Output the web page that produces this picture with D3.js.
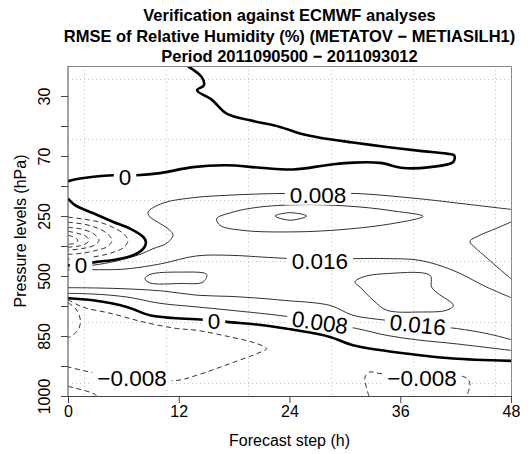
<!DOCTYPE html>
<html><head><meta charset="utf-8">
<script src="https://cdn.jsdelivr.net/npm/d3@7"></script>
<style>
body{margin:0;background:#fff}
svg{display:block}
text{font-family:"Liberation Sans",Arial,Helvetica,sans-serif;fill:#000}
</style>
</head><body>
<svg id="c" width="528" height="454"></svg>
<script>
// ---------- data ----------
const titleLines = [
  "Verification against ECMWF analyses",
  "RMSE of Relative Humidity (%) (METATOV \u2212 METIASILH1)",
  "Period 2011090500 \u2212 2011093012"
];
const xLabel = "Forecast step (h)";
const yLabel = "Pressure levels (hPa)";
const stepTicks = [0, 12, 24, 36, 48];
const levels = ["30","50","70","150","250","400","500","700","850","925","1000"];
const labeledLevels = ["30","70","250","500","850","1000"];
const gridSteps = [1.77, 10.62, 19.54, 28.5, 37.35, 46.3];
const gridLevels = [-0.58, 1.44, 3.48, 5.51, 7.54, 9.58];

// contour lines: [forecast step (h), pressure-level index]
const zeroTop = [[13.0,-0.99],[14.49,-0.63],[14.73,-0.36],[13.98,-0.19],[15.57,0.12],[17.19,0.59],[19.72,0.81],[22.97,1.03],[25.14,1.25],[27.3,1.39],[30.88,1.55],[34.53,1.70],[38.14,1.83],[41.03,1.92],[41.85,1.98],[41.74,2.2],[39.22,2.37],[36.33,2.4],[33.8,2.23],[30.91,2.22],[28.39,2.29],[24.38,2.45],[20.8,2.39],[17.19,2.31],[13.54,2.37],[9.97,2.57],[7.44,2.64],[4.88,2.64],[1.3,2.75],[0,2.84]];
const zeroBlob = [[0,3.42],[0.76,3.64],[2.74,3.91],[4.91,4.2],[6.72,4.42],[8.16,4.7],[8.45,4.87],[8.16,5.09],[7.07,5.31],[5.28,5.45],[3.11,5.53],[1.3,5.61],[0,5.64]];
const zeroLow = [[0,6.74],[2.71,6.81],[6.37,7.03],[8.88,7.31],[11.38,7.4],[14.3,7.45],[15.82,7.48],[17.2,7.53],[21.13,7.64],[24.78,7.81],[28.39,8.03],[30.88,8.31],[34.53,8.5],[38.14,8.64],[41.71,8.75],[48,8.83]];
const pos008Up = [[0,5.69],[2.71,5.64],[5.09,5.51],[6.72,5.38],[7.8,5.28],[9.21,5.09],[10.69,4.91],[11.38,4.64],[11.05,4.48],[9.97,4.25],[8.88,4.03],[8.67,3.87],[10.29,3.57],[13.54,3.39],[17.19,3.31],[22.97,3.25],[27.1,3.26],[31.31,3.25],[35.21,3.34],[38.86,3.45],[42.47,3.58],[48,3.78]];
const pos008Low = [[0,6.58],[2.71,6.6],[6.37,6.7],[9.97,6.91],[13.94,7.03],[17.55,7.14],[23.51,7.34],[27.3,7.54],[31.28,7.75],[34.53,7.98],[38.14,8.14],[41.71,8.25],[48,8.48]];
const pos016Up = [[0,5.79],[2.71,5.79],[5.63,5.78],[7.8,5.71],[10.29,5.58],[13.94,5.33],[17.55,5.31],[21.13,5.37],[23.51,5.41],[27.3,5.45],[31.31,5.42],[34.56,5.42],[38.14,5.48],[41.71,5.81],[45.36,6.37],[48,6.72]];
const pos016Low = [[0,6.39],[3.25,6.4],[6.5,6.43],[10.29,6.5],[13.94,6.64],[17.55,6.68],[21.13,6.75],[23.29,6.81],[28.39,6.98],[30.88,7.31],[34.56,7.48],[37.9,7.62],[42.1,7.75],[45.4,7.92],[48,8.12]];
const pos016Ring = [[16.11,4.09],[17.88,3.87],[20.8,3.7],[26.22,3.62],[31.64,3.7],[35.21,3.83],[38.46,4.01],[35.21,4.25],[29.79,4.45],[24.38,4.53],[18.96,4.48],[16.47,4.31]];
const pos016Edge = [[48,4.2],[46.5,4.4],[44.5,4.66],[43.55,4.85],[44.1,5.05],[45.4,5.4],[46.8,5.78],[48,6.09]];
const pos024Diamond = [[22.43,4.0],[24.05,3.89],[25.86,4.0],[24.05,4.14]];
const pos024IslandL = [[8.34,6.09],[8.88,5.95],[12.13,5.87],[15.03,5.95],[14.63,6.2],[12.13,6.25],[8.88,6.23]];
const pos024IslandR = [[31.09,6.2],[31.99,6.03],[34.53,5.92],[39.22,5.98],[39.4,6.37],[40.09,6.58],[41.75,6.98],[41.03,7.14],[38.14,7.2],[34.53,7.14],[33.08,6.81],[31.64,6.37]];
const neg008Low = [[0,6.79],[1.63,7.04],[4.55,7.24],[8.13,7.53],[11.78,7.75],[13.94,7.81],[17.55,8.03],[20.44,8.25],[21.53,8.42],[20.44,8.59],[17.55,8.92],[13.94,9.31],[11.78,9.48],[7.15,9.41],[2.38,9.2],[0,9.03]];
const neg016Low = [[0,6.89],[0.87,7.1],[1.3,7.4],[1.3,7.64],[0.98,7.84],[0.22,8.03],[0,8.04]];
const neg016Corner = [[0,9.68],[2.71,9.91],[3.11,10]];
const neg008Right = [[32.61,10],[32.18,9.37],[32.72,9.2],[33.59,9.24],[38.36,9.38],[43.01,9.37],[43.55,9.59],[43.19,10]];
const neg008Blob = [[0,4.04],[1.84,4.11],[3.47,4.21],[4.88,4.38],[5.96,4.58],[6.5,4.81],[6.07,5.04],[4.88,5.21],[3.25,5.34],[1.52,5.41],[0,5.44]];
const neg016Blob = [[0,4.21],[1.84,4.28],[3.25,4.41],[4.33,4.61],[4.77,4.81],[4.33,5.01],[3.14,5.14],[1.52,5.24],[0,5.28]];
const neg024Blob = [[0,4.38],[1.52,4.44],[2.71,4.58],[3.36,4.81],[2.82,4.98],[1.63,5.08],[0,5.14]];
const neg032Blob = [[0,4.51],[1.08,4.58],[1.95,4.68],[2.28,4.81],[1.84,4.94],[0.98,5.01],[0,5.04]];
const neg040Blob = [[0,4.64],[0.65,4.71],[1.08,4.81],[0.76,4.91],[0,4.94]];

const contourLines = [
  {value:0, closed:false, points:zeroTop},
  {value:0, closed:false, points:zeroBlob},
  {value:0, closed:false, points:zeroLow},
  {value:0.008, closed:false, points:pos008Up},
  {value:0.008, closed:false, points:pos008Low},
  {value:0.016, closed:false, points:pos016Up},
  {value:0.016, closed:false, points:pos016Low},
  {value:0.016, closed:true, points:pos016Ring},
  {value:0.016, closed:false, points:pos016Edge},
  {value:0.024, closed:true, points:pos024Diamond},
  {value:0.024, closed:true, points:pos024IslandL},
  {value:0.024, closed:true, points:pos024IslandR},
  {value:-0.008, closed:false, points:neg008Low},
  {value:-0.016, closed:false, points:neg016Low},
  {value:-0.016, closed:false, points:neg016Corner},
  {value:-0.008, closed:false, points:neg008Right},
  {value:-0.008, closed:false, points:neg008Blob},
  {value:-0.016, closed:false, points:neg016Blob},
  {value:-0.024, closed:false, points:neg024Blob},
  {value:-0.032, closed:false, points:neg032Blob},
  {value:-0.040, closed:false, points:neg040Blob}
];
const contourLabels = [
  {text:"0", step:6.18, level:2.68, angle:0},
  {text:"0.008", step:27.09, level:3.31, angle:0},
  {text:"0.016", step:27.3, level:5.48, angle:0},
  {text:"0", step:1.41, level:5.64, angle:0},
  {text:"0", step:15.82, level:7.48, angle:0},
  {text:"0.008", step:27.3, level:7.54, angle:8},
  {text:"0.016", step:37.9, level:7.62, angle:6},
  {text:"\u22120.008", step:6.93, level:9.41, angle:0},
  {text:"\u22120.008", step:38.36, level:9.38, angle:0}
];

// ---------- chart ----------
const svg = d3.select("#c");
const x = d3.scaleLinear().domain([0,48]).range([68,511]);
const y = d3.scaleLinear().domain([-1,10]).range([66,396]);

svg.append("defs").append("clipPath").attr("id","clip")
  .append("rect").attr("x",x(0)).attr("y",y(-1)).attr("width",x(48)-x(0)).attr("height",y(10)-y(-1));

// grid
const grid = svg.append("g").attr("stroke","#c4c4c4").attr("stroke-width",1).attr("stroke-dasharray","1,3");
grid.selectAll(".gx").data(gridSteps).join("line")
  .attr("x1",d=>Math.round(x(d))+0.5).attr("x2",d=>Math.round(x(d))+0.5)
  .attr("y1",y(-1)).attr("y2",y(10));
grid.selectAll(".gy").data(gridLevels).join("line")
  .attr("y1",d=>Math.round(y(d))+0.5).attr("y2",d=>Math.round(y(d))+0.5)
  .attr("x1",x(0)).attr("x2",x(48));

// contours
const lineOpen = d3.line().x(d=>x(d[0])).y(d=>y(d[1])).curve(d3.curveCatmullRom.alpha(0.5));
const lineClosed = d3.line().x(d=>x(d[0])).y(d=>y(d[1])).curve(d3.curveCatmullRomClosed.alpha(0.5));
const cg = svg.append("g").attr("clip-path","url(#clip)");
cg.selectAll("path").data(contourLines).join("path")
  .attr("d",d=> d.closed ? lineClosed(d.points) : lineOpen(d.points))
  .attr("fill","none")
  .attr("stroke", d=> d.value===0 ? "#000" : "#1a1a1a")
  .attr("stroke-width", d=> d.value===0 ? 2.6 : 0.9)
  .attr("stroke-dasharray", d=> d.value<0 ? "5,3.5" : null)
  .attr("stroke-linejoin","round");

// contour labels
const lg = svg.append("g");
contourLabels.forEach(l=>{
  const g = lg.append("g").attr("transform",`translate(${x(l.step)},${y(l.level)}) rotate(${l.angle})`);
  const t = g.append("text").attr("text-anchor","middle").attr("dy","0.36em")
    .style("font-size","22.5px").text(l.text);
  const b = t.node().getBBox();
  g.insert("rect","text").attr("x",b.x-5).attr("width",b.width+10)
    .attr("y",-9.5).attr("height",19).attr("fill","#fff");
});

// frame (top/right)
svg.append("path").attr("d",`M${x(0)},${y(-1)+0.5}H${x(48)+0.5}V${y(10)}`)
  .attr("fill","none").attr("stroke","#8a8a8a").attr("stroke-width",1);

// axes
const xAxis = d3.axisBottom(x).tickValues(stepTicks).tickSize(7).tickSizeOuter(0).tickPadding(3);
const gx = svg.append("g").attr("transform",`translate(0,${y(10)})`).call(xAxis);
gx.selectAll("text").style("font-size","16px").attr("fill","#000");
gx.selectAll("line,path").attr("stroke","#444");

const yAxis = d3.axisLeft(y).tickValues(d3.range(levels.length)).tickSize(7).tickSizeOuter(0)
  .tickFormat(i => labeledLevels.includes(levels[i]) ? levels[i] : "");
const gy = svg.append("g").attr("transform",`translate(${x(0)},0)`).call(yAxis);
gy.select(".domain").attr("d",`M0,${y(-1)}V${y(10)}`);
gy.selectAll("line,path").attr("stroke","#444");
gy.selectAll("text").style("font-size","16px").attr("fill","#000")
  .attr("transform","rotate(-90)").attr("x",0).attr("y",-18).attr("dy",0)
  .attr("text-anchor","middle");

// axis titles
svg.append("text").attr("x",(x(0)+x(48))/2).attr("y",446).attr("text-anchor","middle")
  .style("font-size","16px").text(xLabel);
svg.append("text").attr("transform",`translate(26,${(y(-1)+y(10))/2}) rotate(-90)`)
  .attr("text-anchor","middle").style("font-size","16px").text(yLabel);

// title
svg.append("g").selectAll("text").data(titleLines).join("text")
  .attr("x",(x(0)+x(48))/2).attr("y",(d,i)=>21+i*20.5).attr("text-anchor","middle")
  .style("font-size","16.5px").style("font-weight","bold").text(d=>d);
</script>
</body></html>
